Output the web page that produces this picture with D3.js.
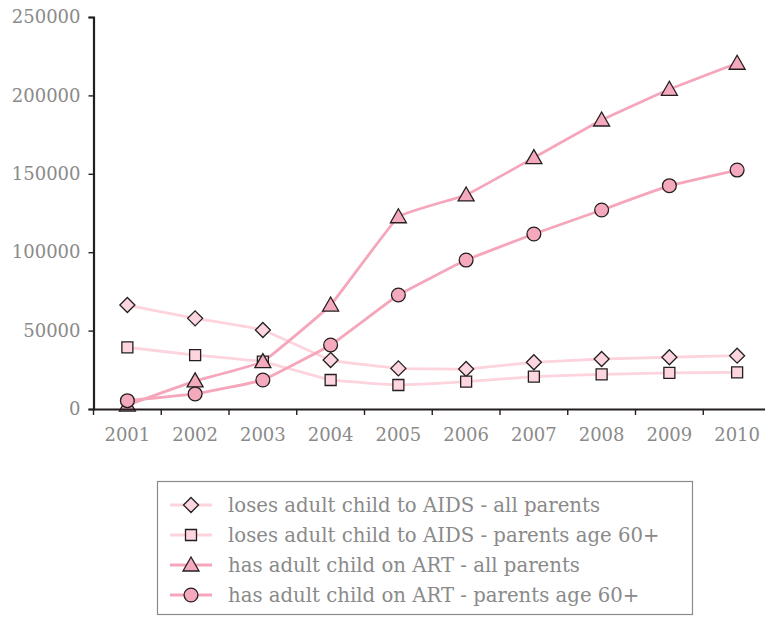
<!DOCTYPE html>
<html>
<head>
<meta charset="utf-8">
<script src="https://cdn.jsdelivr.net/npm/d3@7"></script>
<style>
  html, body { margin: 0; padding: 0; background: #fff; }
  svg { display: block; }
  text { font-family: "DejaVu Serif", serif; fill: #8a8a8a; }
</style>
</head>
<body>
<svg id="chart" width="765" height="617"></svg>
<script>
const years = ["2001","2002","2003","2004","2005","2006","2007","2008","2009","2010"];
const yTicks = [0, 50000, 100000, 150000, 200000, 250000];

const losesAll   = [66300, 57800, 50400, 31200, 25900, 25500, 29800, 31900, 33000, 34000];
const loses60    = [39300, 34400, 30200, 18500, 15300, 17400, 20600, 22100, 23000, 23400];
const artAll     = [2500, 17900, 30200, 66300, 122600, 136500, 160300, 184300, 203900, 220500];
const art60      = [5300, 9600, 18500, 40800, 72700, 95000, 111600, 126900, 142400, 152400];

const seriesNames = [
  "loses adult child to AIDS - all parents",
  "loses adult child to AIDS - parents age 60+",
  "has adult child on ART - all parents",
  "has adult child on ART - parents age 60+"
];

const series = [
  { name: seriesNames[0], values: losesAll, symbol: "diamond",  line: "#fdd3dd", fill: "#fcd5df" },
  { name: seriesNames[1], values: loses60,  symbol: "square",   line: "#fdd3dd", fill: "#fcd5df" },
  { name: seriesNames[2], values: artAll,   symbol: "triangle", line: "#f5a6ba", fill: "#f5a9bd" },
  { name: seriesNames[3], values: art60,    symbol: "circle",   line: "#f5a6ba", fill: "#f5a9bd" }
];

const svg = d3.select("#chart");
const plot = { left: 93.5, right: 771, top: 17, bottom: 409 };

const x = d3.scaleBand().domain(years).range([plot.left, plot.right]);
const y = d3.scaleLinear().domain([0, 250000]).range([plot.bottom, plot.top]);

// marker shapes
const symbolPath = {
  diamond: "M0,-7.5L7.5,0L0,7.5L-7.5,0Z",
  square: "M-5.5,-5.5H5.5V5.5H-5.5Z",
  triangle: "M0,-8L8,6L-8,6Z",
  circle: d3.symbol().type(d3.symbolCircle).size(150)()
};

const line = d3.line()
  .x((d, i) => x(years[i]) + x.bandwidth() / 2)
  .y(d => y(d))
  .curve(d3.curveCardinal.tension(0.75));

// lines first, then markers on top
series.forEach(s => {
  svg.append("path")
    .attr("d", line(s.values))
    .attr("fill", "none")
    .attr("stroke", s.line)
    .attr("stroke-width", 2.8);
});
series.forEach(s => {
  svg.append("g").selectAll("path")
    .data(s.values)
    .join("path")
    .attr("d", symbolPath[s.symbol])
    .attr("transform", (d, i) => `translate(${x(years[i]) + x.bandwidth() / 2},${y(d)})`)
    .attr("fill", s.fill)
    .attr("stroke", "#231f20")
    .attr("stroke-width", 1.3);
});

// axes
const yAxis = d3.axisLeft(y).tickValues(yTicks).tickSize(5).tickPadding(8).tickFormat(d3.format("d"));
const gy = svg.append("g").attr("transform", `translate(${plot.left},0)`).call(yAxis);
gy.select(".domain").attr("stroke", "#231f20").attr("stroke-width", 2.2);
gy.selectAll(".tick line").attr("stroke", "#231f20").attr("stroke-width", 1.4);
gy.selectAll(".tick text").attr("font-size", 18).attr("fill", "#8a8a8a").attr("font-family", "DejaVu Serif, serif");

const xAxis = d3.axisBottom(x).tickSize(0).tickPadding(19);
const gx = svg.append("g").attr("transform", `translate(0,${plot.bottom})`).call(xAxis);
gx.select(".domain").attr("stroke", "#231f20").attr("stroke-width", 2.2);
gx.selectAll(".tick text").attr("font-size", 18).attr("fill", "#8a8a8a").attr("font-family", "DejaVu Serif, serif");
// tick marks at band boundaries
gx.append("g").selectAll("line")
  .data(years)
  .join("line")
  .attr("x1", d => x(d)).attr("x2", d => x(d))
  .attr("y1", 0).attr("y2", 6)
  .attr("stroke", "#231f20").attr("stroke-width", 1.4);

// legend
const legend = svg.append("g");
legend.append("rect")
  .attr("x", 157.5).attr("y", 481.5).attr("width", 535).attr("height", 133)
  .attr("fill", "#fff").attr("stroke", "#8a8a8a").attr("stroke-width", 1.2);
series.forEach((s, i) => {
  const cy = 505 + i * 30;
  legend.append("line")
    .attr("x1", 170).attr("x2", 212).attr("y1", cy).attr("y2", cy)
    .attr("stroke", s.line).attr("stroke-width", 2.8);
  legend.append("path")
    .attr("d", symbolPath[s.symbol])
    .attr("transform", `translate(191,${cy})`)
    .attr("fill", s.fill).attr("stroke", "#231f20").attr("stroke-width", 1.3);
  legend.append("text")
    .attr("x", 228).attr("y", cy + 6.5)
    .attr("font-size", 19.7)
    .text(s.name);
});
</script>
</body>
</html>
